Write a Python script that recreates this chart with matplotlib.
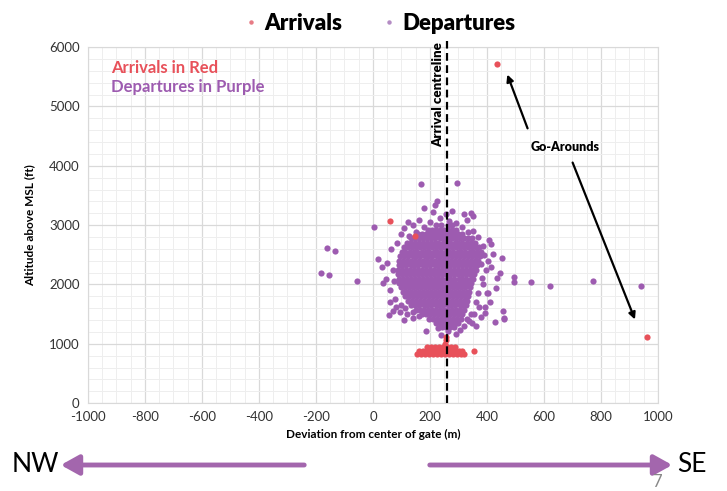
import matplotlib
matplotlib.use('Agg')
import matplotlib.pyplot as plt
from matplotlib.lines import Line2D
from matplotlib.ticker import MultipleLocator

plt.rcParams['font.family'] = ['Lato', 'DejaVu Sans']
plt.rcParams['axes.unicode_minus'] = False

# цвета
purple = '#9d5bb0'
red = '#e8515a'

# плотное ядро вылетов: высота строки (ft) и отклонения в ней (m)
core_alt = [3000, 2925, 2850, 2775, 2700, 2625, 2550, 2475, 2400, 2325, 2250, 2175,
            2100, 2025, 1950, 1875, 1800, 1725, 1650, 1575, 1500, 1425, 1350, 1275]
core_dev = [
    [222, 240, 262, 279],
    [194, 208, 222, 236, 250, 264, 278, 292],
    [158, 172, 187, 201, 215, 230, 244, 257, 272, 286, 300, 314],
    [133, 148, 162, 176, 191, 205, 219, 234, 248, 262, 276, 291, 305, 318, 333, 346],
    [119, 133, 146, 161, 175, 188, 203, 217, 230, 245, 259, 272, 287, 300, 314, 329, 343, 358],
    [108, 122, 137, 150, 164, 179, 192, 206, 221, 234, 248, 263, 276, 290, 305, 318, 332, 347, 360, 371],
    [101, 114, 129, 143, 156, 171, 185, 198, 213, 226, 240, 255, 268, 282, 297, 310, 324, 339, 352, 366, 379],
    [96, 110, 124, 139, 152, 166, 181, 194, 208, 223, 236, 250, 265, 278, 292, 307, 320, 334, 349, 362, 374],
    [91, 105, 120, 133, 147, 162, 175, 189, 204, 217, 231, 246, 259, 273, 288, 301, 315, 330, 343, 357, 369],
    [90, 103, 117, 132, 145, 159, 174, 187, 201, 216, 229, 243, 258, 271, 285, 300, 313, 327, 342, 355, 365],
    [87, 101, 115, 130, 143, 157, 172, 185, 199, 214, 227, 241, 256, 269, 283, 298, 311, 325, 340, 352, 361],
    [88, 102, 116, 131, 144, 158, 173, 186, 200, 215, 228, 242, 257, 270, 284, 299, 312, 326, 341, 354],
    [90, 104, 118, 133, 146, 160, 175, 188, 202, 217, 230, 244, 259, 272, 286, 301, 314, 328, 343, 350],
    [93, 107, 121, 136, 149, 163, 178, 191, 205, 220, 233, 247, 262, 275, 289, 304, 317, 331, 345],
    [98, 112, 126, 141, 154, 168, 183, 196, 210, 225, 238, 252, 267, 280, 294, 309, 322, 339],
    [105, 119, 133, 148, 161, 175, 190, 203, 217, 232, 245, 259, 274, 287, 301, 316, 329, 338],
    [112, 126, 140, 155, 168, 182, 197, 210, 224, 239, 252, 266, 281, 294, 308, 323, 335],
    [122, 136, 150, 165, 178, 192, 207, 220, 234, 249, 262, 276, 291, 304, 318, 330],
    [135, 149, 163, 178, 191, 205, 220, 233, 247, 262, 275, 289, 304, 317, 325],
    [150, 164, 178, 193, 206, 220, 235, 248, 262, 277, 290, 304, 319],
    [171, 185, 199, 214, 227, 241, 256, 269, 283, 298, 311],
    [196, 210, 224, 239, 252, 266, 281, 294, 308],
    [221, 235, 249, 264, 277, 291, 300],
    [242, 256, 270, 285],
]

# разрозненные вылеты вокруг ядра
dep_x = [169, 295, 224, 218, 180, 210, 4, 124, -161, -134, -183, -155, -57, 19, 50,
         494, 494, 553, 620, 773, 940, 56, 69, 95, 109, 186, 291, 347, 362, 430,
         459, 455, 394, 453, 421, 406, 414, 447, 435, 433, 383, 318, 344, 350, 277,
         256, 329, 70, 75, 60, 78, 65, 85, 100, 110, 140, 160, 60, 80, 120,
         140, 380, 390, 395, 385, 370, 360, 372, 345, 330, 320, 240, 265, 230, 350,
         370, 385, 405, 415, 400, 412, 380, 47, 35, 30, 461, 392, 404, 356,
         200, 235, 268, 292, 178, 312, 332, 150, 128, 97, 112, 140, 162, 336, 305]
dep_y = [3693, 3715, 3411, 3339, 3288, 3226, 2973, 3057, 2614, 2569, 2192, 2159, 2063, 2428, 2366,
         2118, 2034, 2040, 1973, 2052, 1973, 1484, 1557, 1540, 1400, 1220, 1169, 1343, 1304, 1366,
         1411, 1551, 1518, 2445, 2513, 2749, 2681, 2198, 2114, 1939, 2102, 3187, 3209, 3153, 3243,
         3187, 3086, 2250, 2050, 1900, 1750, 2600, 2700, 2850, 2950, 3000, 3080, 1700, 1620, 1500,
         1430, 2350, 2500, 2250, 2000, 1850, 1700, 1620, 1500, 1420, 1300, 1150, 1220, 1260, 2900,
         2800, 2650, 2400, 2300, 1850, 1700, 1450, 2100, 2030, 2300, 1428, 1624, 1849, 1495,
         3060, 3120, 3075, 3030, 2975, 2960, 2880, 2890, 2820, 1660, 1610, 1540, 1470, 1390, 1230]

# прилёты
arr_alt = [830, 885, 940]
arr_dev = [
    [156, 170, 184, 198, 212, 226, 240, 254, 268, 282, 296, 308, 318],
    [162, 176, 190, 204, 218, 232, 246, 260, 274, 288, 302, 314],
    [190, 204, 218, 232, 246, 260, 274, 288],
]
arr_x = [252, 258, 256, 356, 60, 148, 437, 961]
arr_y = [1000, 1060, 1120, 877, 3070, 2816, 5717, 1113]

centreline = 260

fig = plt.figure(figsize=(7.27, 4.91), dpi=100)
ax = fig.add_axes([0.121, 0.179, 0.784, 0.725])

ms = 20
xs = [d for row in core_dev for d in row] + dep_x
ys = [a for a, row in zip(core_alt, core_dev) for _ in row] + dep_y
ax.scatter(xs, ys, s=ms, color=purple, linewidths=0, zorder=3)

axs = [d for row in arr_dev for d in row] + arr_x
ays = [a for a, row in zip(arr_alt, arr_dev) for _ in row] + arr_y
ax.scatter(axs, ays, s=ms, color=red, linewidths=0, zorder=4)

ax.set_xlim(-1000, 1000)
ax.set_ylim(0, 6000)
ax.xaxis.set_major_locator(MultipleLocator(200))
ax.xaxis.set_minor_locator(MultipleLocator(50))
ax.yaxis.set_major_locator(MultipleLocator(1000))
ax.yaxis.set_minor_locator(MultipleLocator(200))
ax.grid(which='major', color='#d9d9d9', lw=0.9)
ax.grid(which='minor', color='#eeeeee', lw=0.7)
ax.set_axisbelow(True)
ax.tick_params(which='both', length=0, labelsize=9.5, colors='#333333', pad=6)
for s in ax.spines.values():
    s.set_color('#d9d9d9')

ax.set_xlabel('Deviation from center of gate (m)', fontsize=8.5, fontweight='bold', labelpad=4)
ax.set_ylabel('Altitude above MSL (ft)', fontsize=8.5, fontweight='bold', labelpad=10)

# осевая линия прилёта
ax.plot([centreline, centreline], [0, 6100], ls=(0, (3.5, 2)), color='black', lw=1.6,
        clip_on=False, zorder=5)
ax.text(centreline - 30, 6090, 'Arrival centreline', rotation=90, ha='center', va='top',
        fontsize=9.5, fontweight='heavy', zorder=6)

ax.text(-920, 5650, 'Arrivals in Red', color=red, fontsize=12, fontweight='bold', va='center')
ax.text(-920, 5330, 'Departures in Purple', color=purple, fontsize=12, fontweight='bold', va='center')

# уход на второй круг
ax.text(676, 4317, 'Go-Arounds', ha='center', va='center', fontsize=9, fontweight='heavy')
ax.annotate('', xy=(468, 5582), xytext=(546, 4587),
            arrowprops=dict(arrowstyle='-|>', color='black', lw=1.6, mutation_scale=10))
ax.annotate('', xy=(923, 1366), xytext=(697, 4098),
            arrowprops=dict(arrowstyle='-|>', color='black', lw=1.6, mutation_scale=10))

# легенда
handles = [Line2D([], [], ls='', marker='o', ms=2.2, color='#e77b85'),
           Line2D([], [], ls='', marker='o', ms=2.2, color='#b48cc4')]
fig.legend(handles, ['Arrivals', 'Departures'], loc='upper center', bbox_to_anchor=(0.52, 1.015),
           ncol=2, frameon=False, prop=dict(weight='heavy', size=16), handletextpad=0.1,
           columnspacing=1.6, handlelength=1.0)

# стрелки направлений
W, H = 727, 491
arrow_col = '#a366ad'
fig.add_artist(matplotlib.patches.FancyArrowPatch(
    (307 / W, 26 / H), (58 / W, 26 / H), transform=fig.transFigure,
    arrowstyle='-|>,head_length=0.9,head_width=0.5', lw=3.5, color=arrow_col, mutation_scale=12))
fig.add_artist(matplotlib.patches.FancyArrowPatch(
    (427 / W, 26 / H), (675 / W, 26 / H), transform=fig.transFigure,
    arrowstyle='-|>,head_length=0.9,head_width=0.5', lw=3.5, color=arrow_col, mutation_scale=12))
fig.text(12 / W, 26 / H, 'NW', fontsize=19, va='center', ha='left')
fig.text(677 / W, 27 / H, 'SE', fontsize=19, va='center', ha='left')
fig.text(657 / W, 9 / H, '7', fontsize=12, color='#888888', va='center', ha='center')

fig.savefig('out.png', dpi=100)
